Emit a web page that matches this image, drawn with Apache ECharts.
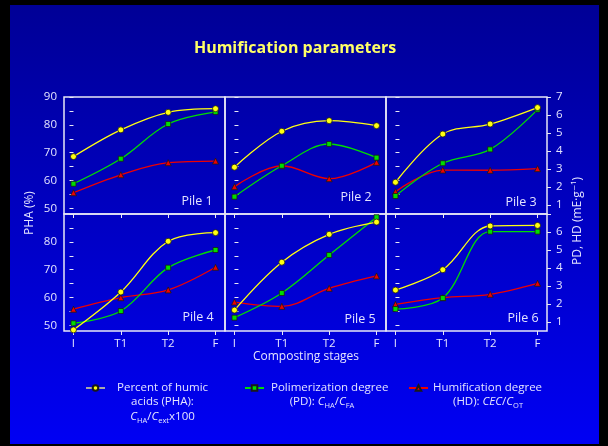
<!DOCTYPE html>
<html><head><meta charset="utf-8">
<script src="https://cdn.jsdelivr.net/npm/echarts@6/dist/echarts.min.js"></script>
<style>html,body{margin:0;padding:0;background:#000;} #c{width:608px;height:446px;}</style>
</head><body><div id="c"></div>
<script>
// ---- data ----
const stages = ['I', 'T1', 'T2', 'F'];
const piles = ['Pile 1', 'Pile 2', 'Pile 3', 'Pile 4', 'Pile 5', 'Pile 6'];
const pha = [
  [68.6, 78.2, 84.5, 85.8],
  [64.8, 77.7, 81.5, 79.7],
  [59.4, 76.7, 80.3, 86.2],
  [48.4, 62.0, 80.2, 83.3],
  [55.5, 72.7, 82.7, 87.1],
  [62.7, 70.0, 85.7, 85.9]
];
const pd = [
  [2.18, 3.57, 5.50, 6.17],
  [1.46, 3.18, 4.39, 3.63],
  [1.50, 3.32, 4.09, 6.30],
  [0.93, 1.61, 4.02, 5.00],
  [1.24, 2.61, 4.72, 6.82],
  [1.72, 2.33, 6.02, 6.02]
];
const hd = [
  [1.68, 2.68, 3.35, 3.44],
  [2.02, 3.18, 2.46, 3.37],
  [1.74, 2.94, 2.93, 3.02],
  [1.71, 2.35, 2.78, 4.04],
  [2.11, 1.87, 2.87, 3.56],
  [1.98, 2.35, 2.54, 3.15]
];
const stagePos = [0, 1, 2, 3];
const phaTicks = [50, 55, 60, 65, 70, 75, 80, 85, 90];
const phaLabelsTop = [50, 60, 70, 80, 90];
const phaLabelsBottom = [50, 60, 70, 80];
const pdTicks = [1, 2, 3, 4, 5, 6, 7];
const pdLabelsTop = [1, 2, 3, 4, 5, 6, 7];
const pdLabelsBottom = [1, 2, 3, 4, 5, 6];
const seriesNames = ['Percent of humic acids (PHA)', 'Polimerization degree (PD)', 'Humification degree (HD)'];

// ---- style / layout ----
const FONT = '"Open Sans", "DejaVu Sans", sans-serif';
const FG = '#e4e4ff';
const LINE = '#e8e8f6';
const G = { left: 64, top: 97, w: 161, h: 117 };
const pileLabelPos = [[197, 201], [356, 197], [521, 202], [198, 317], [360, 319], [523, 318]];
const colPHA = '#ffff10', colPD = '#00dd00', colHD = '#ee0000';

const grids = [], xAxes = [], yAxes = [], series = [];
for (let i = 0; i < 6; i++) {
  const r = Math.floor(i / 3), c = i % 3;
  grids.push({
    left: G.left + c * G.w, top: G.top + r * G.h, width: G.w, height: G.h,
    show: true, borderColor: LINE, borderWidth: 1.5, backgroundColor: 'transparent', containLabel: false
  });
  xAxes.push({
    type: 'value', gridIndex: i, min: -0.2, max: 3.2,
    axisLine: { show: false }, splitLine: { show: false },
    axisTick: { show: true, customValues: stagePos, length: 4, lineStyle: { color: LINE, width: 1 } },
    axisLabel: {
      show: r === 1, customValues: stagePos, formatter: v => stages[Math.round(v)],
      margin: 7, color: FG, fontSize: 11.5, fontFamily: FONT
    }
  });
  yAxes.push({
    type: 'value', gridIndex: i, position: 'left', min: 48, max: 90,
    axisLine: { show: false }, splitLine: { show: false },
    axisTick: { show: true, inside: c !== 0, customValues: phaTicks, length: 4, lineStyle: { color: LINE, width: 1 } },
    axisLabel: {
      show: c === 0, customValues: r === 0 ? phaLabelsTop : phaLabelsBottom,
      margin: 7, color: FG, fontSize: 11.5, fontFamily: FONT
    }
  });
  yAxes.push({
    type: 'value', gridIndex: i, position: 'right', min: 0.5, max: 7,
    axisLine: { show: false }, splitLine: { show: false },
    axisTick: { show: c === 2, customValues: pdTicks, length: 4, lineStyle: { color: LINE, width: 1 } },
    axisLabel: {
      show: c === 2, customValues: r === 0 ? pdLabelsTop : pdLabelsBottom,
      margin: 9, color: FG, fontSize: 11.5, fontFamily: FONT
    }
  });
  const mk = (name, vals, yIdx, symbol, size, color, z) => ({
    name, type: 'line', xAxisIndex: i, yAxisIndex: yIdx, smooth: 0.35,
    data: vals.map((v, k) => [stagePos[k], v]),
    symbol, symbolSize: size, showSymbol: true, z,
    itemStyle: { color, borderColor: '#1a1a1a', borderWidth: 0.8 },
    lineStyle: { color, width: 1.3 }
  });
  series.push(mk(seriesNames[2], hd[i], 2 * i + 1, 'triangle', 6, colHD, 3));
  series.push(mk(seriesNames[1], pd[i], 2 * i + 1, 'rect', 5, colPD, 4));
  series.push(mk(seriesNames[0], pha[i], 2 * i, 'circle', 6, colPHA, 5));
}

const legendFirst = { [seriesNames[0]]: 'Percent of humic', [seriesNames[1]]: 'Polimerization degree', [seriesNames[2]]: 'Humification degree' };
const legendCommon = {
  orient: 'horizontal', itemWidth: 19, itemHeight: 7, selectedMode: false,
  formatter: n => legendFirst[n],
  textStyle: { color: FG, fontSize: 11.5, fontFamily: FONT }
};
const legends = [
  Object.assign({}, legendCommon, { left: 80, top: 377, data: [{ name: seriesNames[0], lineStyle: { color: '#a8a8a8' } }],
    textStyle: Object.assign({}, legendCommon.textStyle, { padding: [0, 0, 0, 7] }) }),
  Object.assign({}, legendCommon, { left: 239, top: 377, data: [seriesNames[1]],
    textStyle: Object.assign({}, legendCommon.textStyle, { padding: [0, 0, 0, 2] }) }),
  Object.assign({}, legendCommon, { left: 403, top: 377, data: [seriesNames[2]],
    textStyle: Object.assign({}, legendCommon.textStyle, { padding: [0, 0, 0, 0] }) })
];

const rich = {
  it: { fontStyle: 'italic', fontSize: 11.5, fontFamily: FONT, fill: FG, color: FG, lineHeight: 15 },
  sub: { fontSize: 7.5, fontFamily: FONT, fill: FG, color: FG, verticalAlign: 'bottom', lineHeight: 9, padding: [5, 0, 0, 0] }
};
const txt = (x, y, text, extra) => ({
  type: 'text', x, y, silent: true,
  style: Object.assign({ text, fill: FG, font: '11.5px ' + FONT, align: 'center', verticalAlign: 'middle', rich }, extra || {})
});

const graphics = [
  { type: 'rect', z: -100, silent: true, shape: { x: 10, y: 5, width: 589, height: 439 },
    style: { fill: { type: 'linear', x: 0, y: 0, x2: 0, y2: 1,
      colorStops: [{ offset: 0, color: '#000096' }, { offset: 0.5, color: '#0000c4' }, { offset: 1, color: '#0000f4' }] } } },
  txt(295, 48, 'Humification parameters', { fill: '#ffff66', font: 'bold 16px ' + FONT }),
  txt(306, 357, 'Composting stages', { font: '12px ' + FONT }),
  Object.assign(txt(30, 213, 'PHA (%)', { font: '12px ' + FONT }), { rotation: Math.PI / 2 }),
  Object.assign(txt(578, 221, 'PD, HD (mE\u00B7g\u207B\u00B9)', { font: '12px ' + FONT }), { rotation: Math.PI / 2 }),
  txt(162.5, 402, 'acids (PHA):'),
  txt(162.5, 417, '{it|C}{sub|HA}/{it|C}{sub|ext}x100'),
  txt(322, 402, '(PD): {it|C}{sub|HA}/{it|C}{sub|FA}'),
  txt(488, 402, '(HD): {it|CEC}/{it|C}{sub|OT}')
];
piles.forEach((p, i) => graphics.push(txt(pileLabelPos[i][0], pileLabelPos[i][1], p, { font: '12.5px ' + FONT })));

const chart = echarts.init(document.getElementById('c'), null, { renderer: 'canvas' });
chart.setOption({
  backgroundColor: '#000',
  animation: false,
  grid: grids, xAxis: xAxes, yAxis: yAxes, series,
  legend: legends,
  graphic: { elements: graphics }
});
</script></body></html>
